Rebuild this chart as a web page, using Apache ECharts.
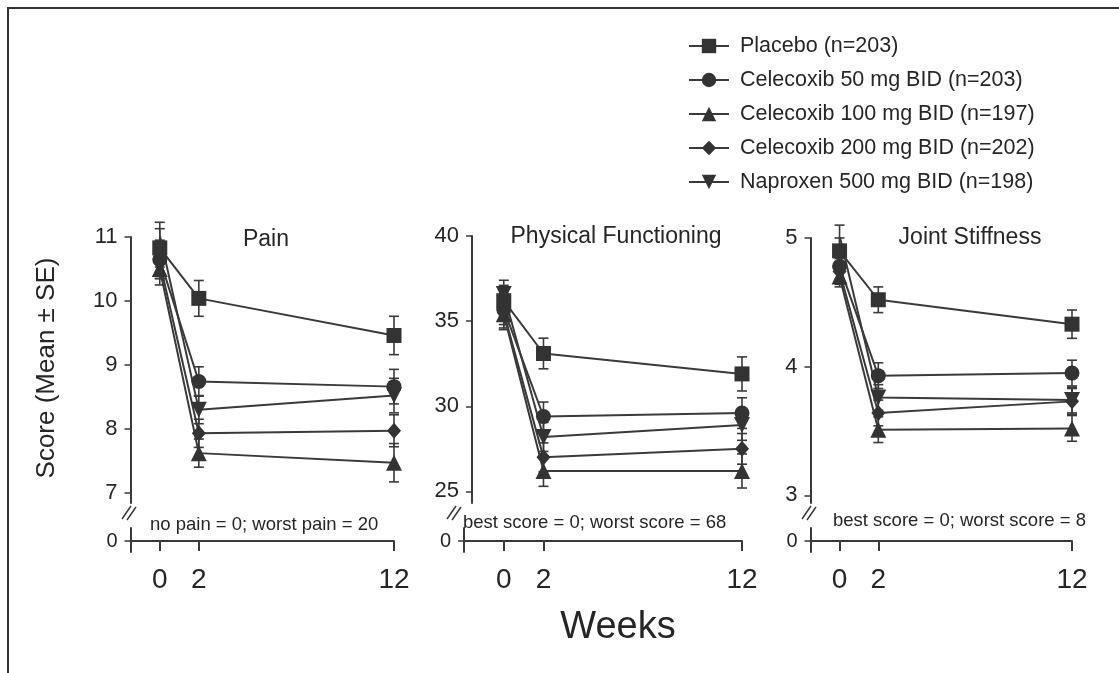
<!DOCTYPE html>
<html>
<head>
<meta charset="utf-8">
<script src="https://cdn.jsdelivr.net/npm/echarts@6/dist/echarts.min.js"></script>
<style>
html,body{margin:0;padding:0;background:#fff;}
#chart{width:1119px;height:673px;}
</style>
</head>
<body>
<div id="chart"></div>
<script>
// ---------------- data ----------------
const weeks = [0, 2, 12];
const weekTicks = [0, 2, 12];
const groupNames = ['Placebo (n=203)', 'Celecoxib 50 mg BID (n=203)', 'Celecoxib 100 mg BID (n=197)', 'Celecoxib 200 mg BID (n=202)', 'Naproxen 500 mg BID (n=198)'];
const panelTitles = ['Pain', 'Physical Functioning', 'Joint Stiffness'];
const panelNotes = ['no pain = 0; worst pain = 20', 'best score = 0; worst score = 68', 'best score = 0; worst score = 8'];

// Pain (rows: placebo, cele50, cele100, cele200, naproxen)
const painMean = [
  [10.83, 10.04, 9.46],
  [10.65, 8.74, 8.66],
  [10.50, 7.62, 7.47],
  [10.60, 7.93, 7.97],
  [11.03, 8.30, 8.52]
];
const painSE = [
  [0.30, 0.28, 0.30],
  [0.30, 0.23, 0.27],
  [0.25, 0.22, 0.30],
  [0.25, 0.22, 0.25],
  [0.20, 0.22, 0.27]
];
const painTicks = [7, 8, 9, 10, 11];

// Physical functioning
const pfMean = [
  [36.2, 33.1, 31.9],
  [35.7, 29.4, 29.6],
  [35.4, 26.2, 26.2],
  [35.5, 27.0, 27.5],
  [36.6, 28.2, 28.9]
];
const pfSE = [
  [0.9, 0.9, 1.0],
  [0.9, 0.85, 0.9],
  [0.9, 0.9, 1.0],
  [0.9, 0.85, 0.9],
  [0.8, 0.85, 0.9]
];
const pfTicks = [25, 30, 35, 40];

// Joint stiffness
const jsMean = [
  [4.90, 4.52, 4.33],
  [4.78, 3.93, 3.95],
  [4.70, 3.51, 3.52],
  [4.74, 3.64, 3.73],
  [5.02, 3.76, 3.74]
];
const jsSE = [
  [0.10, 0.10, 0.11],
  [0.10, 0.10, 0.10],
  [0.08, 0.10, 0.10],
  [0.10, 0.10, 0.10],
  [0.08, 0.10, 0.10]
];
const jsTicks = [3, 4, 5];

// ---------------- layout / style ----------------
const FONT = '"Liberation Sans", Arial, Helvetica, sans-serif';
const INK = '#262626';
const LINE = '#3a3a3a';
const upperBottomY = 503;
const lowerTop = 528, lowerHeight = 24;

const panels = [
  { mean: painMean, se: painSE, ticks: painTicks, axisX: 130.5, lowAxisX: 130.5, x12: 394, xMin: -1.5, lowXMin: -1.5,
    top: 237, yMin: 6.84, yMax: 11, breakX: 130, titleX: 266, titleY: 240, noteX: 150, noteY: 525 },
  { mean: pfMean, se: pfSE, ticks: pfTicks, axisX: 472, lowAxisX: 464, x12: 742, xMin: -1.6, lowXMin: -2.0,
    top: 236, yMin: 24.32, yMax: 40, breakX: 455, titleX: 616, titleY: 237, noteX: 463, noteY: 523 },
  { mean: jsMean, se: jsSE, ticks: jsTicks, axisX: 810.5, lowAxisX: 810.5, x12: 1072, xMin: -1.5, lowXMin: -1.5,
    top: 238, yMin: 2.94, yMax: 5, breakX: 810, titleX: 970, titleY: 238, noteX: 833, noteY: 521 }
];

const symbols = [
  { symbol: 'rect', size: 15, rotate: 0 },
  { symbol: 'circle', size: 15, rotate: 0 },
  { symbol: 'triangle', size: 16, rotate: 0 },
  { symbol: 'diamond', size: [14, 16], rotate: 0 },
  { symbol: 'triangle', size: 16, rotate: 180 }
];

const grid = [], xAxis = [], yAxis = [], series = [], graphic = [];

panels.forEach((p, pi) => {
  grid.push({ left: p.axisX, top: p.top, width: p.x12 - p.axisX, height: upperBottomY - p.top });
  grid.push({ left: p.lowAxisX, top: lowerTop, width: p.x12 - p.lowAxisX, height: lowerHeight });
  const gu = pi * 2, gl = pi * 2 + 1;

  xAxis.push({ gridIndex: gu, type: 'value', min: p.xMin, max: 12, show: false });
  xAxis.push({
    gridIndex: gl, type: 'value', min: p.lowXMin, max: 12,
    axisLine: { show: true, onZero: true, lineStyle: { color: LINE, width: 2 } },
    axisTick: { show: true, length: 10, customValues: weekTicks, lineStyle: { color: LINE, width: 2 } },
    axisLabel: { show: true, customValues: weekTicks, margin: 14, fontSize: 28, color: INK, fontFamily: FONT },
    splitLine: { show: false }
  });
  yAxis.push({
    gridIndex: gu, type: 'value', min: p.yMin, max: p.yMax,
    axisLine: { show: true, onZero: false, lineStyle: { color: LINE, width: 2 } },
    axisTick: { show: true, length: 6, customValues: p.ticks, lineStyle: { color: LINE, width: 1.5 } },
    axisLabel: { show: true, customValues: p.ticks, margin: 13, fontSize: 22, color: INK, fontFamily: FONT },
    splitLine: { show: false }
  });
  yAxis.push({
    gridIndex: gl, type: 'value', min: -11, max: 13,
    axisLine: { show: true, onZero: false, lineStyle: { color: LINE, width: 2 } },
    axisTick: { show: true, length: 6, customValues: [0], lineStyle: { color: LINE, width: 1.5 } },
    axisLabel: { show: true, customValues: [0], margin: 13, fontSize: 20, color: INK, fontFamily: FONT },
    splitLine: { show: false }
  });

  p.mean.forEach((row, si) => {
    const sym = symbols[si];
    series.push({
      name: groupNames[si], type: 'line', xAxisIndex: gu, yAxisIndex: gu,
      data: weeks.map((w, i) => [w, row[i]]),
      symbol: sym.symbol, symbolSize: sym.size, symbolRotate: sym.rotate,
      showAllSymbol: true, animation: false, z: 3,
      lineStyle: { color: LINE, width: 2 },
      itemStyle: { color: '#333', borderColor: '#333', borderWidth: 0 }
    });
  });
  p.mean.forEach((row, si) => {
    series.push({
      name: 'err-' + pi + '-' + si, type: 'custom', xAxisIndex: gu, yAxisIndex: gu,
      data: weeks.map((w, i) => [w, row[i] - p.se[si][i], row[i] + p.se[si][i]]),
      animation: false, z: 2,
      renderItem: function (params, api) {
        const x = api.value(0);
        const lo = api.coord([x, api.value(1)]);
        const hi = api.coord([x, api.value(2)]);
        const hw = 5;
        const st = { stroke: LINE, lineWidth: 1.6 };
        return {
          type: 'group',
          children: [
            { type: 'line', shape: { x1: lo[0], y1: lo[1], x2: hi[0], y2: hi[1] }, style: st },
            { type: 'line', shape: { x1: lo[0] - hw, y1: lo[1], x2: lo[0] + hw, y2: lo[1] }, style: st },
            { type: 'line', shape: { x1: hi[0] - hw, y1: hi[1], x2: hi[0] + hw, y2: hi[1] }, style: st }
          ]
        };
      }
    });
  });

  graphic.push({ type: 'text', silent: true, style: { text: panelTitles[pi], x: p.titleX, y: p.titleY, font: '23px ' + FONT, fill: INK, textAlign: 'center', textVerticalAlign: 'middle' } });
  graphic.push({ type: 'text', silent: true, style: { text: panelNotes[pi], x: p.noteX, y: p.noteY, font: '18.5px ' + FONT, fill: INK, textAlign: 'left', textVerticalAlign: 'middle' } });
  const bx = p.breakX;
  graphic.push({ type: 'line', silent: true, shape: { x1: bx - 8, y1: 519, x2: bx + 1, y2: 506 }, style: { stroke: LINE, lineWidth: 1.5 } });
  graphic.push({ type: 'line', silent: true, shape: { x1: bx - 3, y1: 520, x2: bx + 6, y2: 507 }, style: { stroke: LINE, lineWidth: 1.5 } });
});

// frame
graphic.push({ type: 'polyline', silent: true, shape: { points: [[8, 673], [8, 8], [1119, 8]] }, style: { stroke: '#333', lineWidth: 2, fill: null } });
// y title
graphic.push({ type: 'text', silent: true, x: 47, y: 368, rotation: Math.PI / 2,
  style: { text: 'Score (Mean \u00b1 SE)', x: 0, y: 0, font: '26px ' + FONT, fill: INK, textAlign: 'center', textVerticalAlign: 'middle' } });
// x title
graphic.push({ type: 'text', silent: true, style: { text: 'Weeks', x: 618, y: 628, font: '38px ' + FONT, fill: INK, textAlign: 'center', textVerticalAlign: 'middle' } });

const chart = echarts.init(document.getElementById('chart'), null, { renderer: 'canvas' });
chart.setOption({
  animation: false,
  backgroundColor: '#ffffff',
  legend: {
    data: groupNames,
    orient: 'vertical', left: 688, top: 35, padding: 0,
    itemWidth: 40, itemHeight: 18, itemGap: 12,
    selectedMode: false,
    textStyle: { fontSize: 21.5, color: INK, fontFamily: FONT, padding: [0, 0, 0, 6] }
  },
  grid: grid,
  xAxis: xAxis,
  yAxis: yAxis,
  series: series,
  graphic: graphic
});
</script>
</body>
</html>
